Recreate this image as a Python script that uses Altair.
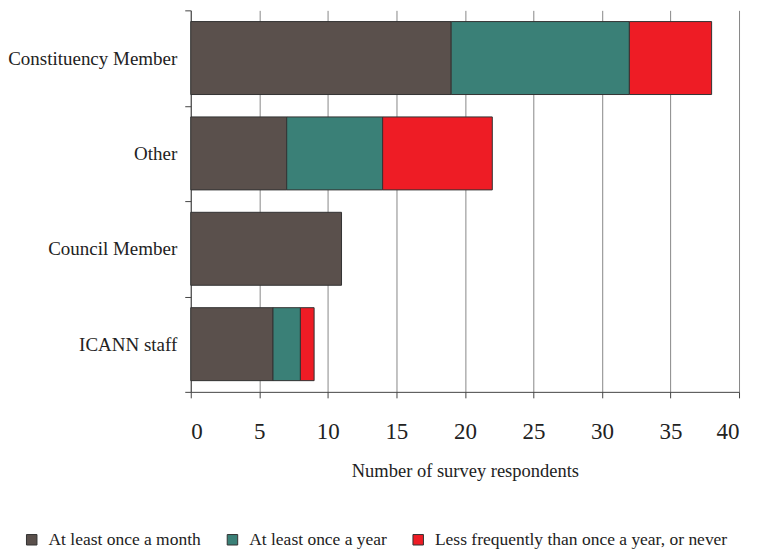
import altair as alt
import pandas as pd

categories = ["Constituency Member", "Other", "Council Member", "ICANN staff"]
series = ["At least once a month", "At least once a year", "Less frequently than once a year, or never"]
monthly = [19, 7, 11, 6]
yearly = [13, 7, 0, 2]
rarely = [6, 8, 0, 1]
colors = ["#5a504c", "#3a8077", "#ee1c25"]

rows = []
for i, c in enumerate(categories):
    for j, (s, vals) in enumerate(zip(series, [monthly, yearly, rarely])):
        if vals[i] > 0:
            rows.append({"category": c, "series": s, "order": j, "value": vals[i]})
df = pd.DataFrame(rows)

FONT = "Liberation Serif"

chart = alt.Chart(df).mark_bar(stroke="#333333", strokeWidth=1, height={"band": 0.765}).encode(
    y=alt.Y("category:N", sort=categories, title=None,
            scale=alt.Scale(paddingInner=0, paddingOuter=0),
            axis=alt.Axis(tickBand="extent", labelFont=FONT, labelFontSize=19,
                          labelColor="#222222", labelPadding=8, tickSize=6,
                          tickColor="#444444", domainColor="#444444",
                          labelLimit=300, grid=False)),
    x=alt.X("value:Q", stack="zero", title="Number of survey respondents",
            scale=alt.Scale(domain=[0, 40], nice=False),
            axis=alt.Axis(values=list(range(0, 41, 5)), grid=True, gridColor="#888888",
                          labelFont=FONT, labelFontSize=23, labelColor="#222222",
                          labelPadding=23, tickSize=6, tickColor="#444444",
                          domainColor="#444444", titleFont=FONT, titleFontSize=18.5,
                          titleFontWeight="normal", titleColor="#222222",
                          titlePadding=18)),
    color=alt.Color("series:N", sort=series, title=None,
                    scale=alt.Scale(domain=series, range=colors),
                    legend=alt.Legend(orient="none", direction="horizontal",
                                      legendX=-168, legendY=521,
                                      symbolType="square", symbolSize=110,
                                      symbolStrokeColor="#333333", symbolStrokeWidth=1,
                                      labelFont=FONT, labelFontSize=17.5,
                                      labelColor="#222222", columnPadding=22,
                                      labelLimit=400, labelOffset=8)),
    order=alt.Order("order:Q"),
).properties(
    width=549, height=382,
    padding={"left": 183, "top": 2, "right": 20, "bottom": 158},
    autosize=alt.AutoSizeParams(type="none"),
).configure_view(stroke=None)

chart.save("out.html", embed_options={"renderer": "svg", "actions": False})
